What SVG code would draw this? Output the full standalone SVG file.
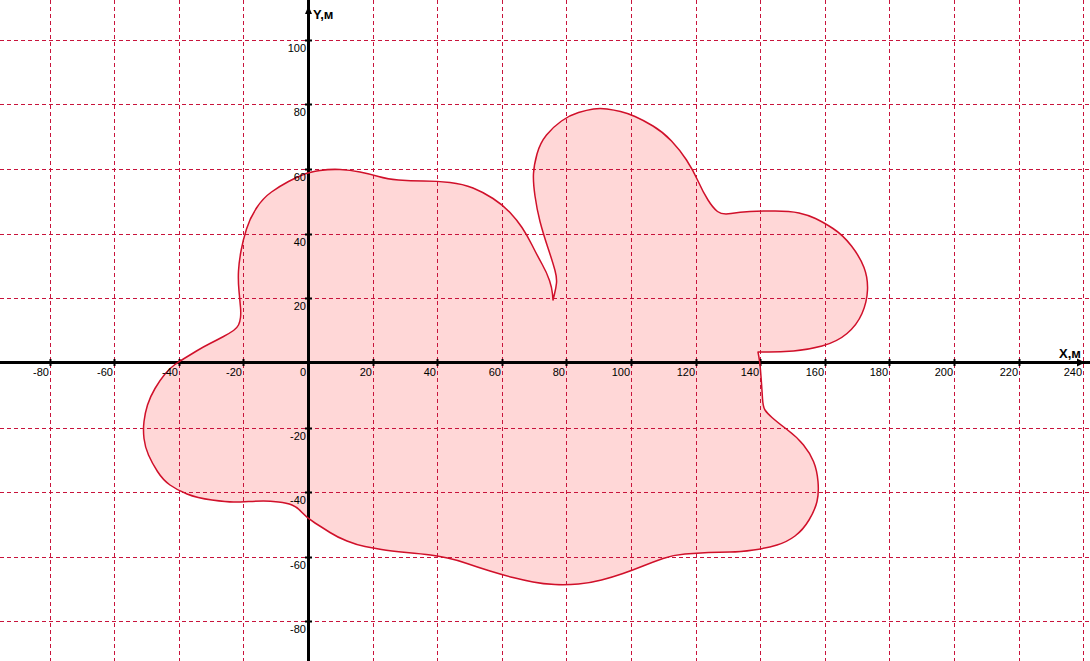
<svg xmlns="http://www.w3.org/2000/svg" xmlns:xlink="http://www.w3.org/1999/xlink" width="1090" height="661" viewBox="0 0 1090 661">
<style>
.grid{stroke:#c8143c;stroke-width:1;stroke-dasharray:4 3;fill:none}
.axis{stroke:#000;stroke-width:3;fill:none}
.tick{stroke:#000;stroke-width:2}
.lbl{font-family:"Liberation Sans",Arial,sans-serif;font-size:11px;fill:#000}
.xl{text-anchor:end}
.ax{font-family:"Liberation Sans",Arial,sans-serif;font-size:13px;font-weight:bold;fill:#000}
</style>
<defs>
<path id="blob" d="M239,291 Q238,280 238.5,271 Q239,262 241,251 Q243,240 246.5,229 Q250,218 256.5,208 Q263,198 271.5,192 Q280,186 288.5,181.5 Q297,177 303.5,174.5 Q310,172 320,170.5 Q330,169 340,169.5 Q350,170 360,172 Q370,174 378.5,176.5 Q387,179 398.5,180 Q410,181 423.5,181 Q437,181 450,182.5 Q463,184 473,188 Q483,192 493,198.5 Q503,205 510,212.5 Q517,220 522,227.5 Q527,235 532,245 Q537,255 542,264 Q547,273 549.5,280.5 Q552,288 552.5,294 L553,300 L554.5,294 Q556,288 556.5,283 Q557,278 555,270.5 Q553,263 548,248 Q543,233 540,221.5 Q537,210 535,196 Q533,182 533.5,173.5 Q534,165 537,154 Q540,143 546.5,135 Q553,127 561.5,121 Q570,115 578.5,112.5 Q587,110 593.5,109 Q600,108 607,109 Q614,110 620.5,111.5 Q627,113 635,116.5 Q643,120 653,126 Q663,132 671.5,141 Q680,150 686.5,160 Q693,170 698,181 Q703,192 708,200 Q713,208 717.5,211.5 Q722,215 731,213.5 Q740,212 750,211.5 Q760,211 775,211 Q790,211 799,213 Q808,215 815.5,218.5 Q823,222 833,228.5 Q843,235 851.5,246 Q860,257 864,267.5 Q868,278 867.5,290 Q867,302 862,313.5 Q857,325 847,333.5 Q837,342 822,346 Q807,350 793.5,351 Q780,352 769,352 L758,352 L759,357.5 Q760,363 761,376.5 Q762,390 762.5,398.5 Q763,407 765,410 Q767,413 772,417.5 Q777,422 787,429.5 Q797,437 803.5,445 Q810,453 813.5,461.5 Q817,470 818,481.5 Q819,493 817,501.5 Q815,510 809,520 Q803,530 795,536 Q787,542 777,545 Q767,548 753.5,550 Q740,552 730,552 Q720,552 708.5,552.5 Q697,553 685,554 Q673,555 663,558.5 Q653,562 643,566 Q633,570 623,573.5 Q613,577 601.5,580 Q590,583 578.5,584 Q567,585 555,584.5 Q543,584 533,582 Q523,580 513,577.5 Q503,575 490,571 Q477,567 467,563.5 Q457,560 447.5,558 Q438,556 430.5,555 Q423,554 406.5,552.5 Q390,551 381.5,549.5 Q373,548 365,546.5 Q357,545 347,541 Q337,537 330,532.5 Q323,528 315,523 Q307,518 302,512.5 Q297,507 292,505 Q287,503 278.5,502 Q270,501 263.5,501 Q257,501 248.5,501.5 Q240,502 233.5,502 Q227,502 212,500 Q197,498 187,494 Q177,490 170,485 Q163,480 157.5,471.5 Q152,463 148.5,455 Q145,447 144,438.5 Q143,430 144,421.5 Q145,413 147.5,405 Q150,397 155,388.5 Q160,380 165,374 Q170,368 175,364.5 Q180,361 185,358 Q190,355 196.5,351 Q203,347 210,343.5 Q217,340 223.5,336.5 Q230,333 233.5,330.5 Q237,328 238.5,325 Q240,322 240.5,317.5 Q241,313 240.5,307.5 Q240,302 239,291 Z"/>
</defs>
<rect width="1090" height="661" fill="#fff"/>
<g id="shape-fill">
<use xlink:href="#blob" href="#blob" fill="#ffd7d7" stroke="none"/>
</g>
<g id="grid">
<path class="grid" d="M50.5,0V661 M114.5,0V661 M179.5,0V661 M243.5,0V661 M373.5,0V661 M437.5,0V661 M502.5,0V661 M566.5,0V661 M631.5,0V661 M696.5,0V661 M760.5,0V661 M825.5,0V661 M889.5,0V661 M954.5,0V661 M1019.5,0V661 M1083.5,0V661"/>
<path class="grid" d="M0,40.5H1090 M0,104.5H1090 M0,169.5H1090 M0,234.5H1090 M0,298.5H1090 M0,428.5H1090 M0,492.5H1090 M0,557.5H1090 M0,621.5H1090"/>
</g>
<g id="axes">
<path class="axis" d="M0,362.5H1090 M308.5,0V661"/>
<polygon points="308.5,6 305,14 312,14" fill="#000"/>
<polygon points="1085,362.5 1077,358.5 1077,366.5" fill="#000"/>
<path class="tick" d="M50.5,359V366 M114.5,359V366 M179.5,359V366 M243.5,359V366 M373.5,359V366 M437.5,359V366 M502.5,359V366 M566.5,359V366 M631.5,359V366 M696.5,359V366 M760.5,359V366 M825.5,359V366 M889.5,359V366 M954.5,359V366 M1019.5,359V366"/>
<path class="tick" d="M305,40.5H312 M305,104.5H312 M305,169.5H312 M305,234.5H312 M305,298.5H312 M305,428.5H312 M305,492.5H312 M305,557.5H312 M305,621.5H312"/>
</g>
<g id="shape-outline">
<use xlink:href="#blob" href="#blob" fill="none" stroke="#d0102a" stroke-width="1.5" stroke-linejoin="round"/>
</g>
<g id="x-labels" class="lbl xl">
<text x="49" y="376">-80</text>
<text x="113" y="376">-60</text>
<text x="178" y="376">-40</text>
<text x="242" y="376">-20</text>
<text x="306" y="376">0</text>
<text x="372" y="376">20</text>
<text x="436" y="376">40</text>
<text x="501" y="376">60</text>
<text x="565" y="376">80</text>
<text x="630" y="376">100</text>
<text x="695" y="376">120</text>
<text x="759" y="376">140</text>
<text x="824" y="376">160</text>
<text x="888" y="376">180</text>
<text x="953" y="376">200</text>
<text x="1018" y="376">220</text>
<text x="1082" y="376">240</text>
</g>
<g id="y-labels" class="lbl xl">
<text x="306" y="52">100</text>
<text x="306" y="116">80</text>
<text x="306" y="181">60</text>
<text x="306" y="246">40</text>
<text x="306" y="310">20</text>
<text x="306" y="440">-20</text>
<text x="306" y="504">-40</text>
<text x="306" y="569">-60</text>
<text x="306" y="633">-80</text>
</g>
<g id="axis-titles">
<text class="ax" x="313" y="19">Y,м</text>
<text class="ax" x="1059" y="358">X,м</text>
</g>
</svg>
